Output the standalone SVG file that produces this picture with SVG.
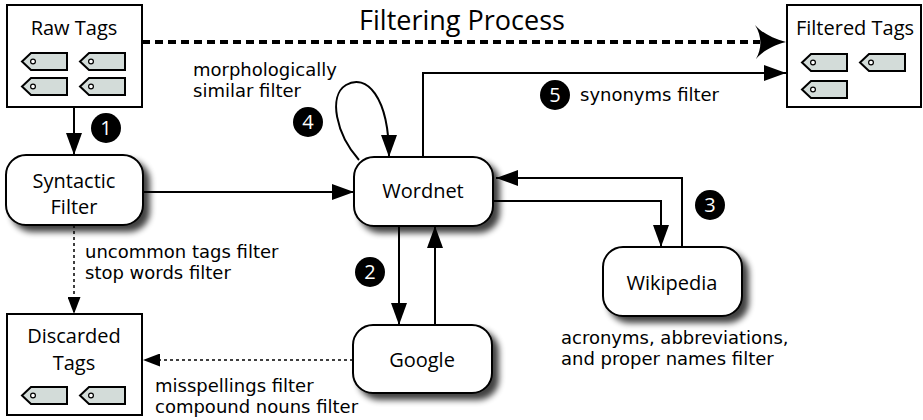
<svg xmlns="http://www.w3.org/2000/svg" xmlns:xlink="http://www.w3.org/1999/xlink" width="923" height="420" viewBox="0 0 923 420">
<style>
text{font-family:"Open Sans","Liberation Sans",sans-serif;fill:#000}
.box{fill:#fff;stroke:#000;stroke-width:2}
.rbox{fill:#fff;stroke:#000;stroke-width:2}
.nl{font-size:20px;text-anchor:middle}
.lbl{font-family:"DejaVu Sans","Liberation Sans",sans-serif;font-size:18px}
.ln{fill:none;stroke:#000;stroke-width:2}
.dot{fill:none;stroke:#000;stroke-width:1.5;stroke-dasharray:3 3}
.badge{fill:#000}
.bn{font-size:20px;fill:#fff;text-anchor:middle}
</style>
<defs>
<filter id="sh" x="-20%" y="-20%" width="150%" height="170%">
<feGaussianBlur in="SourceAlpha" stdDeviation="3"/>
<feOffset dx="6" dy="6" result="o"/>
<feComponentTransfer><feFuncA type="linear" slope="0.75"/></feComponentTransfer>
<feMerge><feMergeNode/><feMergeNode in="SourceGraphic"/></feMerge>
</filter>
<marker id="ah" markerUnits="userSpaceOnUse" markerWidth="22" markerHeight="16" viewBox="0 0 22 16" refX="22" refY="8" orient="auto">
<path d="M0,0 L22,8 L0,16 Z" fill="#000"/>
</marker>
<marker id="ahs" markerUnits="userSpaceOnUse" markerWidth="17" markerHeight="13" viewBox="0 0 17 13" refX="17" refY="6.5" orient="auto">
<path d="M0,0 L17,6.5 L0,13 Z" fill="#000"/>
</marker>
<g id="tag">
<path d="M9,0 H45 V17 H9 L0,8.5 Z" fill="#d3dcd9" stroke="#000" stroke-width="2"/>
<circle cx="11" cy="8.5" r="2.4" fill="#fff" stroke="#000" stroke-width="1.2"/>
</g>
</defs>
<rect width="923" height="420" fill="#fff"/>

<g id="connectors">
<line class="ln" x1="74" y1="107" x2="74" y2="155" marker-end="url(#ah)"/>
<line class="ln" x1="143" y1="192" x2="354" y2="192" marker-end="url(#ah)"/>
<line class="ln" x1="399" y1="226" x2="399" y2="325" marker-end="url(#ah)"/>
<line class="ln" x1="435" y1="325" x2="435" y2="226" marker-end="url(#ah)"/>
<polyline class="ln" points="493,201 661,201 661,247" marker-end="url(#ah)"/>
<polyline class="ln" points="682,247 682,178 496,178" marker-end="url(#ah)"/>
<polyline class="ln" points="423,157 423,73 786,73" marker-end="url(#ah)"/>
<path class="ln" d="M359,160 C336,134 328,96 346,85 C366,73 389,96 389,157" marker-end="url(#ah)"/>
<line class="dot" x1="74" y1="225" x2="74" y2="314" marker-end="url(#ahs)"/>
<line class="dot" x1="353" y1="360" x2="143" y2="360" marker-end="url(#ahs)"/>
<line x1="142" y1="42" x2="760" y2="42" stroke="#000" stroke-width="4" stroke-dasharray="8 5"/>
<path d="M786,42 C771,38 761,32 755,25 C762,36 762,48 756,59 C762,52 771,46 786,42 Z" fill="#000"/>
</g>

<g id="title">
<text x="462" y="30" style="font-size:27px" text-anchor="middle">Filtering Process</text>
</g>

<g id="raw-tags">
<rect class="box" x="7" y="5" width="135" height="102"/>
<text class="nl" x="74" y="35">Raw Tags</text>
<use xlink:href="#tag" x="22" y="53"/>
<use xlink:href="#tag" x="80" y="53"/>
<use xlink:href="#tag" x="22" y="78"/>
<use xlink:href="#tag" x="80" y="78"/>
</g>

<g id="filtered-tags">
<rect class="box" x="787" y="5" width="134" height="102"/>
<text class="nl" x="855" y="35">Filtered Tags</text>
<use xlink:href="#tag" x="802" y="54"/>
<use xlink:href="#tag" x="860" y="54"/>
<use xlink:href="#tag" x="802" y="81"/>
</g>

<g id="discarded-tags">
<rect class="box" x="7" y="314" width="135" height="101"/>
<text class="nl" x="74" y="343">Discarded<tspan x="74" dy="27">Tags</tspan></text>
<use xlink:href="#tag" x="22" y="387"/>
<use xlink:href="#tag" x="80" y="387"/>
</g>

<g id="syntactic-filter">
<rect class="rbox" x="6" y="155" width="137" height="70" rx="20" filter="url(#sh)"/>
<text class="nl" x="74" y="188">Syntactic<tspan x="74" dy="26">Filter</tspan></text>
</g>

<g id="wordnet">
<rect class="rbox" x="354" y="157" width="139" height="69" rx="20" filter="url(#sh)"/>
<text class="nl" x="423" y="198">Wordnet</text>
</g>

<g id="google">
<rect class="rbox" x="353" y="325" width="139" height="68" rx="20" filter="url(#sh)"/>
<text class="nl" x="422" y="367">Google</text>
</g>

<g id="wikipedia">
<rect class="rbox" x="603" y="247" width="139" height="69" rx="20" filter="url(#sh)"/>
<text class="nl" x="672" y="290">Wikipedia</text>
</g>

<g id="labels">
<text class="lbl" x="193" y="76">morphologically<tspan x="193" dy="21">similar filter</tspan></text>
<text class="lbl" x="580" y="101">synonyms filter</text>
<text class="lbl" x="85" y="258">uncommon tags filter<tspan x="85" dy="21">stop words filter</tspan></text>
<text class="lbl" x="155" y="392">misspellings filter<tspan x="155" dy="21">compound nouns filter</tspan></text>
<text class="lbl" x="561" y="344">acronyms, abbreviations,<tspan x="561" dy="21">and proper names filter</tspan></text>
</g>

<g id="badges">
<circle class="badge" cx="106" cy="128" r="15"/><text class="bn" x="106" y="135">1</text>
<circle class="badge" cx="370" cy="272" r="15"/><text class="bn" x="370" y="279">2</text>
<circle class="badge" cx="710" cy="205" r="15"/><text class="bn" x="710" y="212">3</text>
<circle class="badge" cx="308" cy="122" r="15"/><text class="bn" x="308" y="129">4</text>
<circle class="badge" cx="555" cy="95" r="15"/><text class="bn" x="555" y="102">5</text>
</g>
</svg>
